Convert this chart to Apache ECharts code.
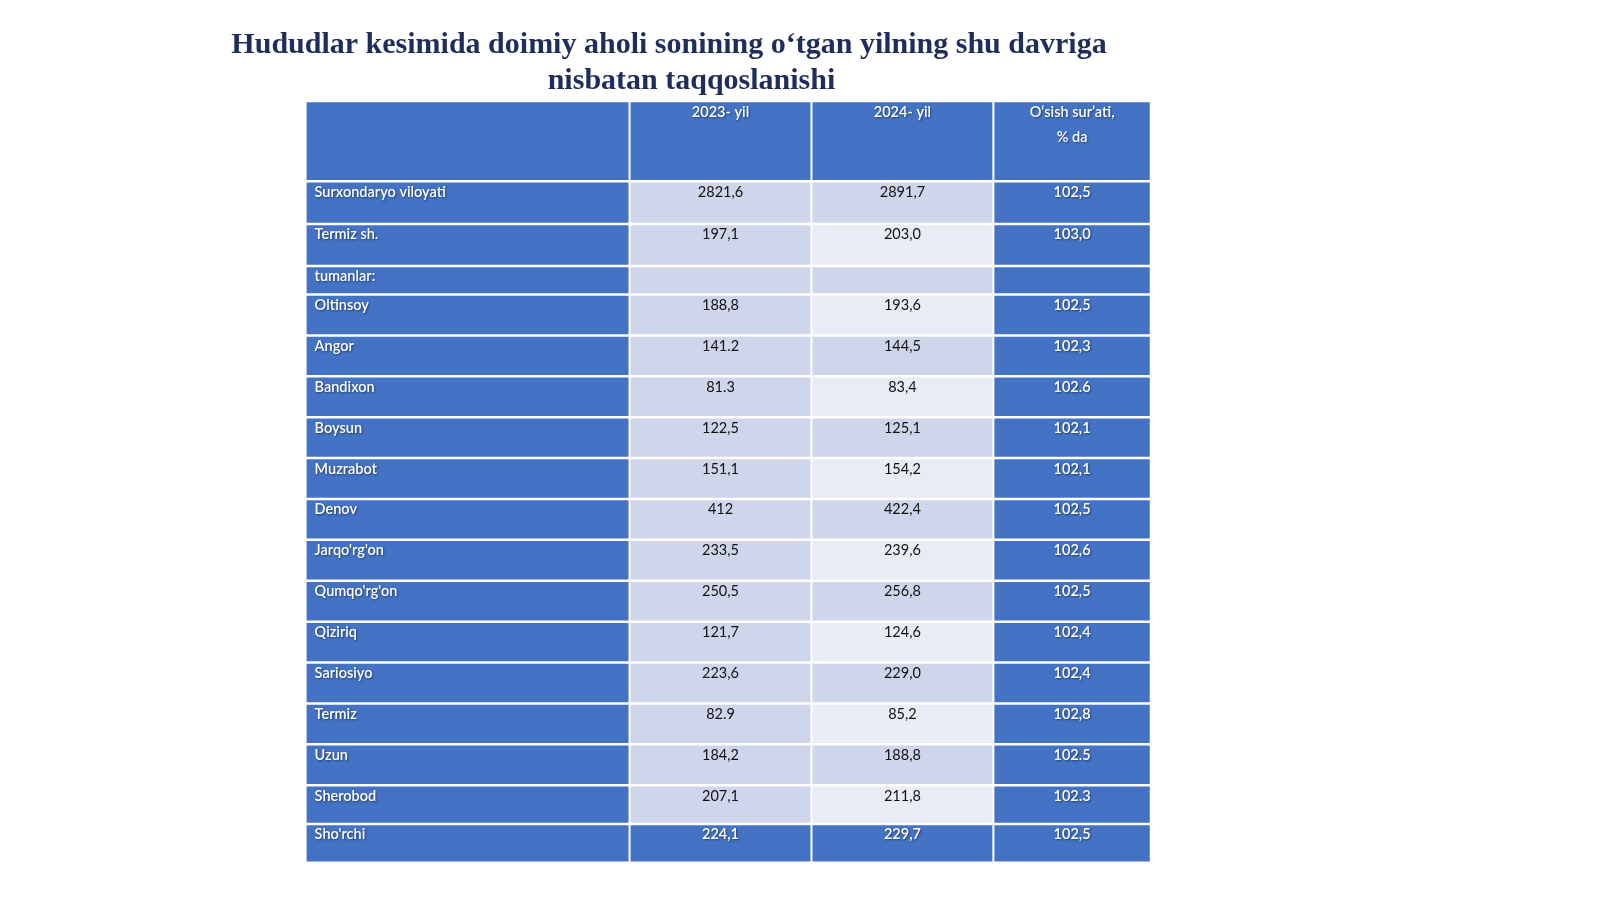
<!DOCTYPE html>
<html><head><meta charset="utf-8">
<script src="https://cdn.jsdelivr.net/npm/echarts@6/dist/echarts.min.js"></script>
<style>html,body{margin:0;padding:0;background:#fff}#c{width:1600px;height:899px}</style>
</head><body><div id="c"></div>
<script>
const headers = ["", "2023- yil", "2024- yil", "O‘sish sur’ati,\n% da"];
const regions = ["Surxondaryo viloyati","Termiz sh.","tumanlar:","Oltinsoy","Angor","Bandixon","Boysun","Muzrabot","Denov","Jarqo'rg'on","Qumqo'rg'on","Qiziriq","Sariosiyo","Termiz","Uzun","Sherobod","Sho'rchi"];
const y2023 = ["2821,6","197,1","","188,8","141.2","81.3","122,5","151,1","412","233,5","250,5","121,7","223,6","82.9","184,2","207,1","224,1"];
const y2024 = ["2891,7","203,0","","193,6","144,5","83,4","125,1","154,2","422,4","239,6","256,8","124,6","229,0","85,2","188,8","211,8","229,7"];
const growth = ["102,5","103,0","","102,5","102,3","102.6","102,1","102,1","102,5","102,6","102,5","102,4","102,4","102,8","102.5","102.3","102,5"];

const K = 1.022;
const colEdges = [300, 616, 794, 972, 1126].map(v=>v*K);
const rowEdges = [100,177,219,260,288,328,368,408,448,488,528,568,608,648,688,728,768,806,844].map(v=>v*K);
const BLUE = '#4472C4', DARK = '#CFD5EA', LIGHT = '#E9EBF5';

const cells = [];
const allRows = [headers].concat(regions.map((r,i)=>[r,y2023[i],y2024[i],growth[i]]));
allRows.forEach((row,ri)=>row.forEach((t,ci)=>cells.push([ci,ri,t])));

function fillFor(ci,ri){
  if (ri===0 || ci===0 || ci===3 || ri===allRows.length-1) return BLUE;
  if (ci===1) return DARK;
  return ((ri-1)%2===0) ? DARK : LIGHT;
}

const chart = echarts.init(document.getElementById('c'));
chart.setOption({
  animation:false,
  title:{text:'Hududlar kesimida doimiy aholi sonining o‘tgan yilning shu davriga\n\u00a0\u00a0\u00a0\u00a0\u00a0\u00a0nisbatan taqqoslanishi',
    left:664, top:22, textAlign:'center',
    textStyle:{fontFamily:'Liberation Serif',fontWeight:'bold',fontSize:30,color:'#1F2D5C',lineHeight:36}},
  grid:{left:0,right:0,top:0,bottom:0},
  xAxis:{type:'value',min:0,max:1600,show:false},
  yAxis:{type:'value',min:0,max:899,inverse:true,show:false},
  series:[{
    type:'custom',
    data:cells,
    renderItem:function(params,api){
      const ci=api.value(0), ri=api.value(1);
      const t=cells[params.dataIndex][2];
      const p0=api.coord([colEdges[ci]+(ci>0?1:0), rowEdges[ri]+(ri>0?1.5:0)]);
      const p1=api.coord([colEdges[ci+1]-1, rowEdges[ri+1]-1]);
      const fill=fillFor(ci,ri);
      const white = fill===BLUE;
      const w=p1[0]-p0[0], h=p1[1]-p0[1];
      return {type:'group',children:[
        {type:'rect',shape:{x:p0[0],y:p0[1],width:w,height:h},style:{fill:fill}},
        {type:'text',style:{text:t,x:ci===0?p0[0]+8:p0[0]+w/2,y:p0[1]+(ri===0?-2:-3),
          textAlign:ci===0?'left':'center',textVerticalAlign:'top',
          fill:white?'#fff':'#111',font:(white?'600 ':'')+'14.5px Lato',lineHeight:25,
          textShadowColor:white?'rgba(0,0,0,0.45)':'transparent',textShadowBlur:white?2:0,textShadowOffsetX:white?1:0,textShadowOffsetY:white?1:0}}
      ]};
    }
  }]
});
</script></body></html>
